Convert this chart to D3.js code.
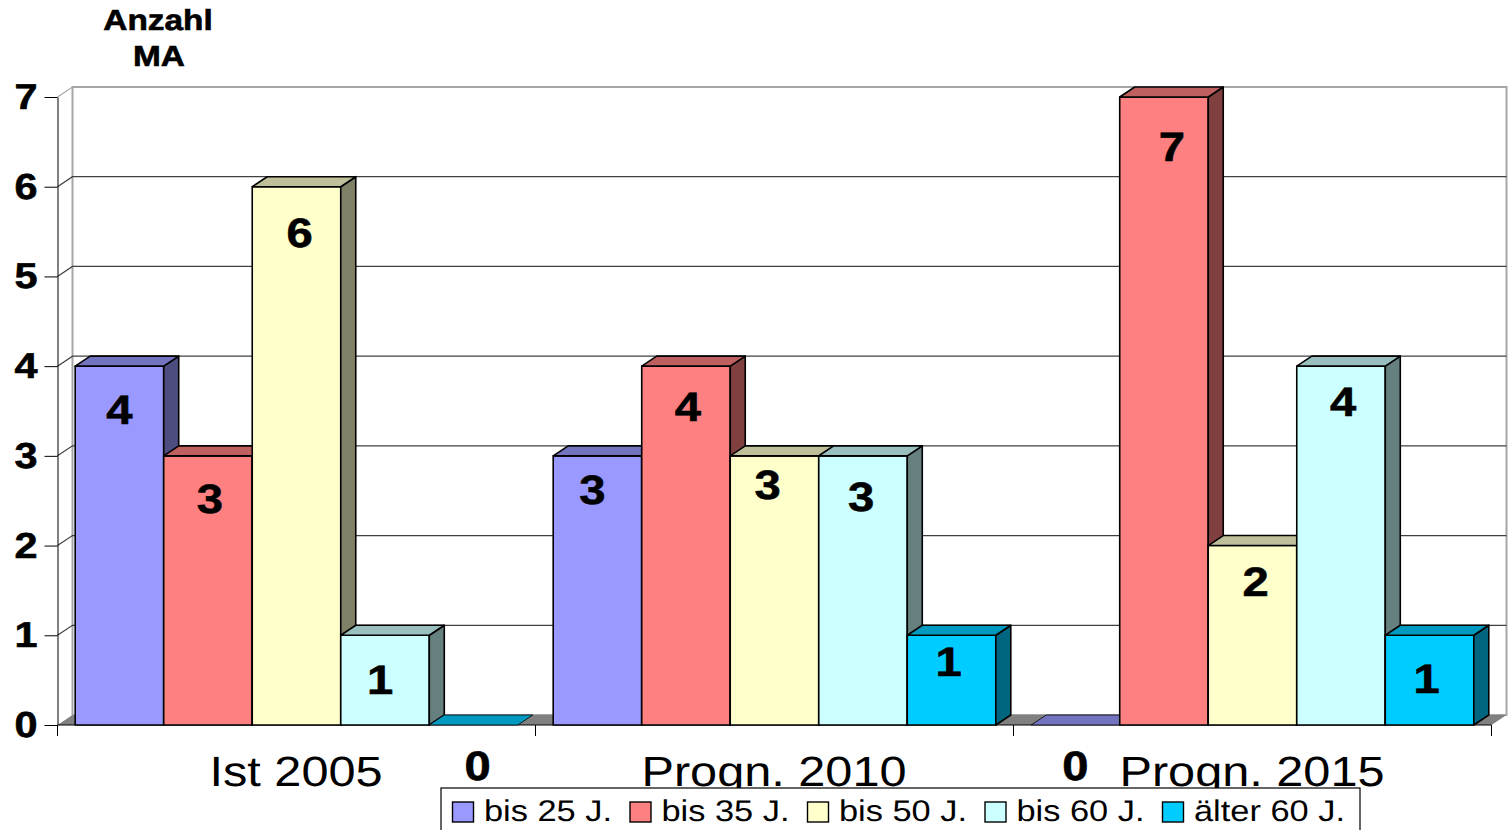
<!DOCTYPE html>
<html>
<head>
<meta charset="utf-8">
<script src="https://cdn.jsdelivr.net/npm/d3@7/dist/d3.min.js"></script>
<style>
  html, body { margin: 0; padding: 0; background: #fff; overflow: hidden; }
  svg { display: block; }
  text { font-family: "Liberation Sans", Arial, sans-serif; fill: #000; text-rendering: geometricPrecision; }
</style>
</head>
<body>
<svg id="chart" width="1510" height="830"></svg>
<script>
// Headcount by age band for each period
const periods = ["Ist 2005", "Progn. 2010", "Progn. 2015"];
const ageBands = ["bis 25 J.", "bis 35 J.", "bis 50 J.", "bis 60 J.", "älter 60 J."];
const colors = ["#9999ff", "#ff8080", "#ffffcc", "#ccffff", "#00ccff"];
const valuesBis25 = [4, 3, 0];
const valuesBis35 = [3, 4, 7];
const valuesBis50 = [6, 3, 2];
const valuesBis60 = [1, 3, 4];
const valuesUeber60 = [0, 1, 1];
const yTicks = [0, 1, 2, 3, 4, 5, 6, 7];

const series = [valuesBis25, valuesBis35, valuesBis50, valuesBis60, valuesUeber60];

// Hand-placed nudges of the value labels, relative to each bar's centre and top, by age band
const labelShifts = [
  [[0, 44], [-5, 34], [0, 0]],
  [[2, 43], [2, 41], [8, 50]],
  [[3, 46], [-7, 29], [3, 36]],
  [[-5, 45], [-2, 41], [2, 36]],
  [[4, 42], [-3, 27], [-3, 44]]
];
const zeroLabelY = 766;

const svg = d3.select("#chart");
const GLYPH_STRETCH = 1.15;          // text is drawn slightly wide
const depthX = 15, depthY = -10;     // oblique offset of the 3-D box

const x0 = d3.scaleBand().domain(periods).range([57.5, 1491.5]);
const x1 = d3.scaleBand().domain(ageBands).range([0, x0.bandwidth()]).paddingInner(0).paddingOuter(0.2);
const y = d3.scaleLinear().domain([0, 7]).range([725, 97]);

const shade = (c, k) => {
  const r = d3.rgb(c);
  return d3.rgb(r.r * k, r.g * k, r.b * k).formatHex();
};
const poly = pts => pts.map(p => p.join(",")).join(" ");

function label(parent, str, cx, baseline, size, weight, anchor) {
  const t = parent.append("text")
    .attr("transform", `translate(${cx},${baseline}) scale(${GLYPH_STRETCH},1)`)
    .attr("text-anchor", anchor || "middle")
    .attr("font-size", size)
    .attr("font-weight", weight || "normal")
    .text(str);
  if (weight === "bold") t.attr("stroke", "#000").attr("stroke-width", 0.6);
  return t;
}

// Floor of the box
const [xL, xR] = x0.range();
const floorPts = poly([[xL, y(0)], [xL + depthX, y(0) + depthY], [xR + depthX, y(0) + depthY], [xR, y(0)]]);

// Back wall outline
svg.append("rect")
  .attr("x", xL + depthX).attr("y", y(7) + depthY)
  .attr("width", xR - xL).attr("height", y(0) - y(7))
  .attr("fill", "#fff").attr("stroke", "#a6a6a6").attr("stroke-width", 2);

// Gridlines across the back wall and down the left wall
yTicks.filter(v => v > 0).forEach(v => {
  const col = v === 7 ? "#a6a6a6" : "#404040";
  svg.append("polyline")
    .attr("points", poly([[xL, y(v)], [xL + depthX, y(v) + depthY], [xR + depthX, y(v) + depthY]]))
    .attr("fill", "none").attr("stroke", col).attr("stroke-width", 1.2);
});
svg.append("polygon").attr("points", floorPts).attr("fill", "#808080");

// Value axis with its ticks
const yAxis = svg.append("g")
  .attr("transform", `translate(${xL},0)`)
  .call(d3.axisLeft(y).tickValues(yTicks).tickFormat(d3.format("d")).tickSize(13).tickPadding(7).tickSizeOuter(0));
yAxis.select(".domain").attr("stroke", "#000").attr("stroke-width", 1);
yAxis.selectAll(".tick line").attr("stroke", "#000");
yAxis.selectAll(".tick text")
  .attr("font-family", "Liberation Sans")
  .attr("font-size", 36).attr("font-weight", "bold")
  .attr("fill", "#000").attr("stroke", "#000").attr("stroke-width", 0.6)
  .attr("x", -20 / GLYPH_STRETCH)
  .attr("transform", `scale(${GLYPH_STRETCH},1)`);

// Category ticks along the floor edge
const edges = periods.map(p => x0(p)).concat(xR);
svg.selectAll("line.edge").data(edges).join("line")
  .attr("class", "edge")
  .attr("x1", d => d).attr("x2", d => d)
  .attr("y1", y(0)).attr("y2", y(0) + 11)
  .attr("stroke", "#000");
svg.append("line")
  .attr("x1", xL).attr("x2", xR).attr("y1", y(0)).attr("y2", y(0))
  .attr("stroke", "#000").attr("stroke-width", 1);

// Bars, painted left to right so that each one covers its neighbour's side face
periods.forEach((period, pi) => {
  ageBands.forEach((band, si) => {
    const v = series[si][pi];
    const bx = x0(period) + x1(band);
    const bw = x1.bandwidth();
    const top = y(v), base = y(0);
    const g = svg.append("g")
      .attr("stroke", "#000").attr("stroke-width", 1.6).attr("stroke-linejoin", "round");
    if (v > 0) {
      g.append("rect")
        .attr("x", bx).attr("y", top).attr("width", bw).attr("height", base - top)
        .attr("fill", colors[si]);
      g.append("polygon")
        .attr("points", poly([[bx + bw, top], [bx + bw + depthX, top + depthY], [bx + bw + depthX, base + depthY], [bx + bw, base]]))
        .attr("fill", shade(colors[si], 0.5));
    }
    g.append("polygon")
      .attr("points", poly([[bx, top], [bx + depthX, top + depthY], [bx + bw + depthX, top + depthY], [bx + bw, top]]))
      .attr("fill", shade(colors[si], 0.75))
      .attr("stroke-width", v > 0 ? 1.6 : 0.8);
  });
});

// Category names
periods.forEach(p => label(svg, p, x0(p) + x0.bandwidth() / 2 - 0.5, 786, 42.3));

// Value labels; zero bars carry theirs beneath the floor
const labelLayer = svg.append("g");
periods.forEach((period, pi) => {
  ageBands.forEach((band, si) => {
    const v = series[si][pi];
    const cx = x0(period) + x1(band) + x1.bandwidth() / 2;
    const [dx, dy] = labelShifts[si][pi];
    const cy = v === 0 ? zeroLabelY : y(v) + dy;
    label(labelLayer, String(v), cx + dx, cy + 14, 41, "bold");
  });
});

// Axis caption
label(svg, "Anzahl", 158, 30, 29, "bold");
label(svg, "MA", 159, 66, 29, "bold");

// Legend strip, running off the lower edge
const legend = svg.append("g");
legend.append("rect")
  .attr("x", 441).attr("y", 788).attr("width", 919).attr("height", 60)
  .attr("fill", "#fff").attr("stroke", "#000").attr("stroke-width", 1.2);
const legendX = d3.scalePoint().domain(ageBands).range([452.5, 1162.5]);
ageBands.forEach((band, i) => {
  legend.append("rect")
    .attr("x", legendX(band)).attr("y", 802).attr("width", 21).attr("height", 20)
    .attr("fill", colors[i]).attr("stroke", "#000").attr("stroke-width", 1.4);
  label(legend, band, legendX(band) + 31.5, 821, 29.9, "normal", "start");
});
</script>
</body>
</html>
